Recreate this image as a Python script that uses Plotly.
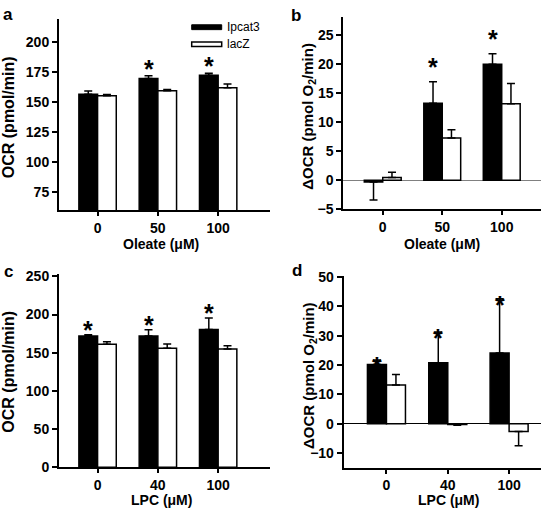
import plotly.graph_objects as go

# ---------------- data ----------------
oleate_cats = ["0", "50", "100"]
lpc_cats = ["0", "40", "100"]

# panel a: OCR (pmol/min), oleate
ocr_oleate_ipcat3 = [156.5, 169.5, 172.3]
ocr_oleate_ipcat3_err = [2.7, 2.3, 1.7]
ocr_oleate_lacz = [155.3, 159.3, 161.8]
ocr_oleate_lacz_err = [0.9, 1.2, 3.2]

# panel b: delta OCR, oleate
docr_oleate_ipcat3 = [-0.3, 13.3, 20.0]
docr_oleate_ipcat3_err = [3.1, 3.7, 1.8]
docr_oleate_lacz = [0.5, 7.3, 13.2]
docr_oleate_lacz_err = [0.9, 1.4, 3.5]

# panel c: OCR (pmol/min), LPC
ocr_lpc_ipcat3 = [172.0, 172.0, 180.5]
ocr_lpc_ipcat3_err = [1.5, 8.0, 15.0]
ocr_lpc_lacz = [161.0, 156.0, 155.0]
ocr_lpc_lacz_err = [3.5, 5.5, 4.0]

# panel d: delta OCR, LPC
docr_lpc_ipcat3 = [20.2, 20.8, 24.1]
docr_lpc_ipcat3_err = [1.5, 10.5, 18.5]
docr_lpc_lacz = [13.2, -0.3, -2.7]
docr_lpc_lacz_err = [3.6, 0.2, 4.8]

# significance markers (per panel, on Ipcat3 bars)
sig_a = [False, True, True]
sig_b = [False, True, True]
sig_c = [True, True, True]
sig_d = [True, True, True]

series_names = ["Ipcat3", "lacZ"]

FONT = "Liberation Sans, Arial, Helvetica, sans-serif"
W, H = 543, 520
BARGAP = 0.38
BAR_W = (1 - BARGAP) / 2

fig = go.Figure()


def px(x):
    return x / W


def py(y):
    return 1 - y / H


def err_dirs(vals, errs):
    up = [e if v >= 0 else 0 for v, e in zip(vals, errs)]
    dn = [e if v < 0 else 0 for v, e in zip(vals, errs)]
    return up, dn


def add_panel(idx, cats, v1, e1, v2, e2, sig, star_shift):
    sfx = "" if idx == 1 else str(idx)
    xs = list(range(len(cats)))
    for name, vals, errs, fill in [
        (series_names[0], v1, e1, "black"),
        (series_names[1], v2, e2, "white"),
    ]:
        up, dn = err_dirs(vals, errs)
        fig.add_trace(go.Bar(
            x=xs, y=vals, name=name, showlegend=False,
            marker=dict(color=fill, line=dict(color="black", width=1.5)),
            error_y=dict(type="data", symmetric=False, array=up, arrayminus=dn,
                         color="black", thickness=1.5, width=4),
            xaxis="x" + sfx, yaxis="y" + sfx,
        ))
    for i, (v, e, s) in enumerate(zip(v1, e1, sig)):
        if s:
            top = v + e if v >= 0 else v
            fig.add_annotation(
                x=i - BAR_W / 2, y=top, xref="x" + sfx, yref="y" + sfx,
                text="<b>*</b>", showarrow=False, yanchor="bottom",
                yshift=star_shift, font=dict(size=25, family=FONT, color="black"),
            )


add_panel(1, oleate_cats, ocr_oleate_ipcat3, ocr_oleate_ipcat3_err,
          ocr_oleate_lacz, ocr_oleate_lacz_err, sig_a, -9)
add_panel(2, oleate_cats, docr_oleate_ipcat3, docr_oleate_ipcat3_err,
          docr_oleate_lacz, docr_oleate_lacz_err, sig_b, -1)
add_panel(3, lpc_cats, ocr_lpc_ipcat3, ocr_lpc_ipcat3_err,
          ocr_lpc_lacz, ocr_lpc_lacz_err, sig_c, -11)
add_panel(4, lpc_cats, docr_lpc_ipcat3, docr_lpc_ipcat3_err,
          docr_lpc_lacz, docr_lpc_lacz_err, sig_d, -22)

tickfont = dict(size=14, family=FONT, color="black", weight="bold")


def xaxis(dom, rng, cats, anchor):
    return dict(domain=dom, range=rng, anchor=anchor,
                tickvals=list(range(len(cats))), ticktext=cats,
                showline=True, linecolor="black", linewidth=2,
                ticks="outside", ticklen=4, tickwidth=1.5, tickcolor="black",
                showgrid=False, zeroline=False, tickfont=tickfont, fixedrange=True)


def yaxis(dom, rng, dtick, anchor, zeroline, zcolor="black"):
    return dict(domain=dom, range=rng, anchor=anchor, dtick=dtick, tick0=0,
                showline=True, linecolor="black", linewidth=2,
                ticks="outside", ticklen=5, tickwidth=1.5, tickcolor="black",
                showgrid=False, zeroline=zeroline, zerolinecolor=zcolor,
                zerolinewidth=1, tickfont=tickfont, fixedrange=True)


ax_a = [px(59), px(270)]
ax_b = [px(343.3), px(541)]
ax_c = [px(59), px(270)]
ax_d = [px(343.7), px(541)]

fig.update_layout(
    width=W, height=H,
    margin=dict(l=0, r=0, t=0, b=0),
    paper_bgcolor="white", plot_bgcolor="white",
    barmode="group", bargap=BARGAP, bargroupgap=0,
    showlegend=False,
    font=dict(family=FONT, color="black"),
    xaxis=xaxis(ax_a, [-0.64, 2.86], oleate_cats, "y"),
    yaxis=yaxis([py(209), py(12)], [60, 219.5], 25, "x", False),
    xaxis2=xaxis(ax_b, [-0.663, 2.66], oleate_cats, "y2"),
    yaxis2=yaxis([py(208.3), py(10)], [-5, 28.2], 5, "x2", True, "#808080"),
    xaxis3=xaxis(ax_c, [-0.64, 2.86], lpc_cats, "y3"),
    yaxis3=yaxis([py(474), py(275)], [0, 253], 50, "x3", False),
    xaxis4=xaxis(ax_d, [-0.697, 2.52], lpc_cats, "y4"),
    yaxis4=yaxis([py(474.3), py(277)], [-15, 50.4], 10, "x4", True, "black"),
)

# axis titles and panel letters
def ann(x, y, text, size, angle=0, bold=True, xanchor="center"):
    fig.add_annotation(x=px(x), y=py(y), xref="paper", yref="paper",
                       text=text, showarrow=False, textangle=angle,
                       xanchor=xanchor, yanchor="middle",
                       font=dict(size=size, family=FONT, color="black",
                                 weight="bold" if bold else "normal"))

ann(8, 8, "a", 17)
ann(296, 9, "b", 17)
ann(8, 272, "c", 17)
ann(297, 271, "d", 17)

ann(8.5, 114, "OCR (pmol/min)", 16, -90)
ann(309, 113, "ΔOCR (pmol O<sub>2</sub>/min)", 15, -90)
ann(8.5, 376, "OCR (pmol/min)", 16, -90)
ann(309, 380, "ΔOCR (pmol O<sub>2</sub>/min)", 15, -90)

ann(161, 244, "Oleate (μM)", 14)
ann(442, 244, "Oleate (μM)", 14)
ann(161, 508, "LPC (μM)", 14)
ann(448, 508, "LPC (μM)", 14)

# legend (panel a)
fig.add_shape(type="rect", xref="paper", yref="paper",
              x0=px(191.7), x1=px(221.7), y0=py(23.3), y1=py(18.3),
              fillcolor="black", line=dict(color="black", width=1))
fig.add_shape(type="rect", xref="paper", yref="paper",
              x0=px(191.7), x1=px(221.7), y0=py(40.7), y1=py(36),
              fillcolor="white", line=dict(color="black", width=1.5))
ann(225, 21, series_names[0], 12, bold=False, xanchor="left")
ann(225, 38.5, series_names[1], 12, bold=False, xanchor="left")

fig.write_html(
    "out.html",
    config={"displayModeBar": False},
    post_script="document.body.style.margin='0';document.body.style.overflow='hidden';",
)
